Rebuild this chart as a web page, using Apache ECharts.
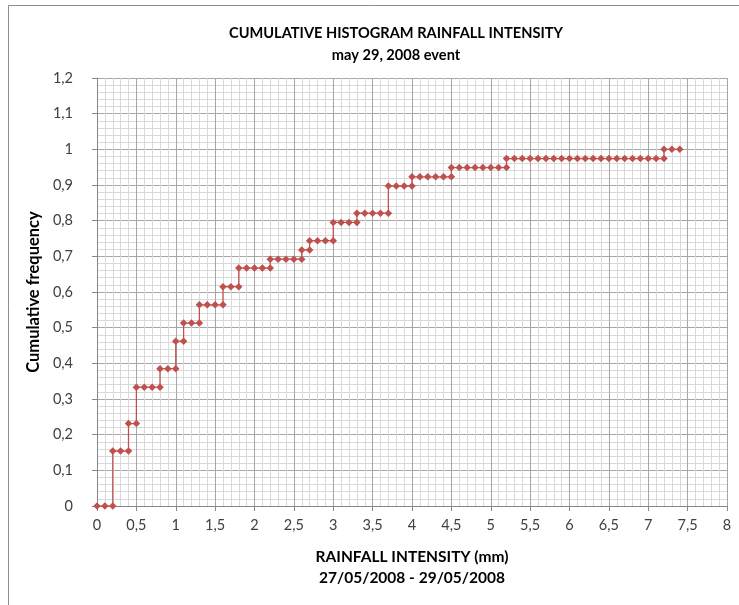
<!DOCTYPE html>
<html>
<head>
<meta charset="utf-8">
<script src="https://cdn.jsdelivr.net/npm/echarts@6/dist/echarts.min.js"></script>
<style>
  html, body { margin: 0; padding: 0; background: #fff; }
  #chart { width: 739px; height: 605px; }
</style>
</head>
<body>
<div id="chart"></div>
<script>
// Rainfall intensity (mm) of each plotted point; a repeated value marks a step
const intensity = [
  0, 0.1, 0.2,
  0.2, 0.3, 0.4,
  0.4, 0.5,
  0.5, 0.6, 0.7, 0.8,
  0.8, 0.9, 1.0,
  1.0, 1.1,
  1.1, 1.2, 1.3,
  1.3, 1.4, 1.5, 1.6,
  1.6, 1.7, 1.8,
  1.8, 1.9, 2.0, 2.1, 2.2,
  2.2, 2.3, 2.4, 2.5, 2.6,
  2.6, 2.7,
  2.7, 2.8, 2.9, 3.0,
  3.0, 3.1, 3.2, 3.3,
  3.3, 3.4, 3.5, 3.6, 3.7,
  3.7, 3.8, 3.9, 4.0,
  4.0, 4.1, 4.2, 4.3, 4.4, 4.5,
  4.5, 4.6, 4.7, 4.8, 4.9, 5.0, 5.1, 5.2,
  5.2, 5.3, 5.4, 5.5, 5.6, 5.7, 5.8, 5.9, 6.0, 6.1, 6.2, 6.3, 6.4, 6.5, 6.6, 6.7, 6.8, 6.9, 7.0, 7.1, 7.2,
  7.2, 7.3, 7.4
];

// Cumulative frequency at each point
const cumulativeFrequency = [
  0, 0, 0,
  0.154, 0.154, 0.154,
  0.231, 0.231,
  0.333, 0.333, 0.333, 0.333,
  0.385, 0.385, 0.385,
  0.462, 0.462,
  0.513, 0.513, 0.513,
  0.564, 0.564, 0.564, 0.564,
  0.615, 0.615, 0.615,
  0.667, 0.667, 0.667, 0.667, 0.667,
  0.692, 0.692, 0.692, 0.692, 0.692,
  0.718, 0.718,
  0.744, 0.744, 0.744, 0.744,
  0.795, 0.795, 0.795, 0.795,
  0.821, 0.821, 0.821, 0.821, 0.821,
  0.897, 0.897, 0.897, 0.897,
  0.923, 0.923, 0.923, 0.923, 0.923, 0.923,
  0.949, 0.949, 0.949, 0.949, 0.949, 0.949, 0.949, 0.949,
  0.974, 0.974, 0.974, 0.974, 0.974, 0.974, 0.974, 0.974, 0.974, 0.974, 0.974, 0.974, 0.974, 0.974, 0.974, 0.974, 0.974, 0.974, 0.974, 0.974, 0.974,
  1, 1, 1
];

const titleLines = ['CUMULATIVE HISTOGRAM RAINFALL INTENSITY', 'may 29, 2008 event'];
const xAxisTitle = ['RAINFALL INTENSITY (mm)', '27/05/2008 - 29/05/2008'];
const yAxisTitle = 'Cumulative frequency';

const FONT = 'Lato, "Open Sans", sans-serif';
const decimalComma = v => String(+v.toFixed(2)).replace('.', ',');

const points = intensity.map((x, i) => [x, cumulativeFrequency[i]]);

const chart = echarts.init(document.getElementById('chart'), null, { renderer: 'canvas' });
chart.setOption({
  animation: false,
  backgroundColor: '#ffffff',
  textStyle: { fontFamily: FONT },
  graphic: [
    {
      type: 'rect',
      shape: { x: 8.5, y: 5.5, width: 760, height: 620 },
      style: { fill: 'none', stroke: '#8c8c8c', lineWidth: 1 },
      silent: true
    },
    {
      type: 'text',
      x: 396, y: 22,
      style: {
        text: titleLines.join('\n'),
        font: 'bold 14.6px ' + FONT,
        fill: '#000',
        textAlign: 'center',
        lineHeight: 22
      }
    }
  ],
  grid: { left: 97, right: 12, top: 78, bottom: 99, containLabel: false },
  xAxis: {
    type: 'value',
    min: 0, max: 8, interval: 0.5,
    name: xAxisTitle.join('\n'),
    nameLocation: 'middle',
    nameGap: 40,
    nameTextStyle: { fontFamily: FONT, fontWeight: 'bold', fontSize: 15.5, color: '#000', lineHeight: 21 },
    axisLine: { onZero: false, lineStyle: { color: '#868686', width: 1 } },
    axisTick: { show: true, inside: false, length: 5, lineStyle: { color: '#868686' } },
    axisLabel: { formatter: decimalComma, fontSize: 14.5, color: '#404040', margin: 12 },
    splitLine: { show: true, lineStyle: { color: '#a6a6a6', width: 1 } },
    minorTick: { show: false, splitNumber: 5 },
    minorSplitLine: { show: true, lineStyle: { color: '#d9d9d9', width: 1 } }
  },
  yAxis: {
    type: 'value',
    min: 0, max: 1.2, interval: 0.1,
    name: yAxisTitle,
    nameLocation: 'middle',
    nameGap: 48,
    nameRotate: 90,
    nameTextStyle: { fontFamily: FONT, fontWeight: 'bold', fontSize: 16.5, color: '#000' },
    axisLine: { show: true, lineStyle: { color: '#868686', width: 1 } },
    axisTick: { show: true, inside: false, length: 5, lineStyle: { color: '#868686' } },
    axisLabel: { formatter: decimalComma, fontSize: 14.5, color: '#404040', margin: 24 },
    splitLine: { show: true, lineStyle: { color: '#a6a6a6', width: 1 } },
    minorTick: { show: false, splitNumber: 5 },
    minorSplitLine: { show: true, lineStyle: { color: '#d9d9d9', width: 1 } }
  },
  series: [{
    type: 'line',
    data: points,
    symbol: 'diamond',
    symbolSize: 7.5,
    showAllSymbol: true,
    itemStyle: { color: '#c0504d' },
    lineStyle: { color: '#c0504d', width: 1.25 },
    clip: false
  }]
});
</script>
</body>
</html>
